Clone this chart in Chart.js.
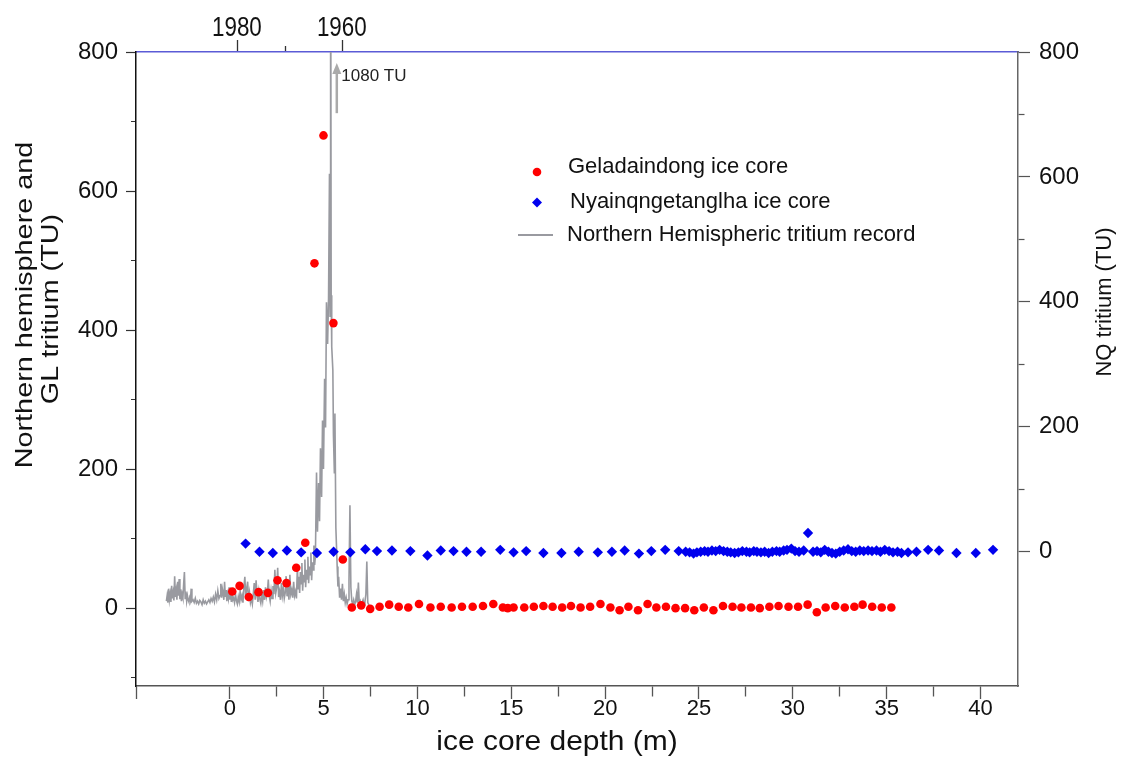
<!DOCTYPE html>
<html lang="en">
<head>
<meta charset="UTF-8">
<title>Tritium in ice cores</title>
<script src="https://cdn.jsdelivr.net/npm/chart.js"></script>
<style>
  body { margin: 0; background: #fff; }
  #wrap { width: 1124px; height: 770px; }
</style>
</head>
<body>
<div id="wrap"><canvas id="grafico"></canvas></div>
<script>
// Geladaindong ice core (left axis, TU)
const gdDepth = [0.13, 0.52, 1.01, 1.53, 2.03, 2.54, 3.02, 3.54, 4.02, 4.51, 4.99, 5.52, 6.02, 6.50, 7.00,
  7.48, 7.98, 8.49, 9.00, 9.51, 10.08, 10.69, 11.24, 11.82, 12.37, 12.94, 13.49, 14.04, 14.55, 14.81,
  15.12, 15.69, 16.20, 16.71, 17.20, 17.71, 18.18, 18.69, 19.20, 19.75, 20.28, 20.77, 21.24, 21.75, 22.26,
  22.73, 23.24, 23.75, 24.26, 24.75, 25.26, 25.77, 26.28, 26.79, 27.26, 27.77, 28.24, 28.75, 29.24, 29.77,
  30.28, 30.79, 31.28, 31.75, 32.26, 32.77, 33.28, 33.72, 34.23, 34.74, 35.25];
const gdTritium = [24, 32, 16, 23, 22, 40, 36, 58, 94, 496, 680, 410, 70, 1, 4,
  -1, 2, 5, 2, 1, 6, 1, 2, 1, 2, 2, 3, 6, 1, 0,
  1, 1, 2, 3, 2, 1, 3, 1, 2, 6, 1, -3, 2, -3, 6,
  1, 2, 0, 0, -3, 1, -3, 3, 2, 1, 1, 0, 2, 3, 2,
  2, 5, -6, 1, 3, 1, 2, 5, 2, 1, 1];

// Nyainqngetanglha ice core (right axis, TU)
const nqDepth = [0.84, 1.58, 2.29, 3.04, 3.80, 4.64, 5.53, 6.42, 7.22, 7.84, 8.64, 9.62, 10.53, 11.24, 11.92,
  12.61, 13.39, 14.41, 15.12, 15.79, 16.71, 17.67, 18.59, 19.61, 20.36, 21.04, 21.80, 22.46, 23.20, 23.92,
  24.29, 24.50, 24.71, 24.89, 25.09, 25.30, 25.48, 25.69, 25.89, 26.10, 26.31, 26.51, 26.69, 26.90, 27.10,
  27.31, 27.53, 27.70, 27.92, 28.09, 28.30, 28.50, 28.71, 28.91, 29.13, 29.30, 29.51, 29.69, 29.92, 30.12,
  30.33, 30.58, 30.81, 31.08, 31.29, 31.49, 31.70, 31.90, 32.09, 32.29, 32.50, 32.71, 32.94, 33.14, 33.35,
  33.57, 33.78, 34.01, 34.22, 34.46, 34.67, 34.90, 35.13, 35.34, 35.58, 35.79, 36.14, 36.59, 37.21, 37.79,
  38.72, 39.75, 40.67];
const nqTritium = [13, 0, -2, 2, -1, -2, 0, -1, 4, 1, 2, 1, -6, 2, 1,
  0, 0, 3, -1, 1, -2, -2, 0, -1, 0, 2, -3, 1, 3, 1,
  0, -1, -3, -1, 0, 1, 0, 2, 1, 3, 1, 0, -1, -2, -1,
  1, 0, -1, 1, 0, -1, 0, -2, 0, 1, 0, 2, 3, 5, 1,
  0, 2, 30, 0, 1, -1, 3, 0, -2, -3, 0, 2, 4, 1, 0,
  2, 1, 2, 1, 2, 0, 3, 1, -1, 0, -2, -1, 0, 3, 2,
  -2, -2, 3];

// Northern Hemispheric tritium record, placed on the depth scale (left axis, TU)
const nhDepth = [-3.38, -3.34, -3.30, -3.26, -3.22, -3.18, -3.14, -3.10, -3.06, -3.02, -2.98, -2.94, -2.90, -2.86, -2.82,
  -2.78, -2.74, -2.70, -2.66, -2.62, -2.58, -2.54, -2.50, -2.46, -2.42, -2.38, -2.34, -2.30, -2.26, -2.22,
  -2.18, -2.14, -2.10, -2.06, -2.02,
  -1.96, -1.90, -1.84, -1.78, -1.72, -1.66, -1.60, -1.54, -1.48, -1.42, -1.36, -1.30, -1.24, -1.18, -1.12,
  -1.06, -1.00, -0.94, -0.88, -0.82, -0.76, -0.70, -0.64, -0.58,
  -0.52, -0.48, -0.44, -0.40, -0.36, -0.32, -0.28, -0.24, -0.20, -0.16, -0.12, -0.08, -0.04, 0.00, 0.04,
  0.08, 0.12, 0.16,
  0.20, 0.25, 0.30, 0.35, 0.40, 0.45, 0.50, 0.55, 0.60, 0.65, 0.70, 0.75, 0.80, 0.85, 0.90,
  0.95, 1.00, 1.05, 1.10, 1.15, 1.20, 1.25, 1.30, 1.35, 1.40, 1.45, 1.50, 1.55, 1.60, 1.65,
  1.70, 1.75, 1.80, 1.85, 1.90, 1.95, 2.00, 2.05,
  2.10, 2.15, 2.20, 2.25, 2.30, 2.35, 2.40, 2.45, 2.50, 2.55, 2.60, 2.65, 2.70, 2.75, 2.80,
  2.85, 2.90, 2.95, 3.00, 3.05, 3.10, 3.15, 3.20, 3.25, 3.30, 3.35, 3.40, 3.45, 3.50, 3.55,
  3.60, 3.64, 3.68, 3.72, 3.76, 3.80, 3.84, 3.88, 3.92, 3.96, 4.00, 4.04, 4.08, 4.12, 4.16,
  4.20, 4.24, 4.28, 4.32, 4.36, 4.40, 4.44, 4.48, 4.52, 4.56,
  4.62, 4.67, 4.73, 4.78, 4.83, 4.89, 4.94, 4.99, 5.05, 5.10, 5.15, 5.21, 5.26, 5.31, 5.34,
  5.37, 5.40, 5.43, 5.49, 5.52, 5.57, 5.60, 5.65, 5.72, 5.76, 5.80, 5.85,
  5.90, 5.95, 6.00, 6.05, 6.10, 6.15, 6.20, 6.25, 6.30, 6.35, 6.40, 6.45, 6.50, 6.55, 6.60,
  6.65, 6.70, 6.75, 6.80, 6.85, 6.90, 6.95, 7.00, 7.05, 7.10, 7.15, 7.20, 7.25, 7.30, 7.35,
  7.40, 7.45];
const nhTritium = [10, 18, 8, 28, 12, 20, 9, 32, 14, 22, 11, 46, 16, 25, 12,
  38, 18, 42, 13, 27, 10, 20, 15, 35, 52, 14, 24, 10, 18, 12,
  9, 15, 11, 28, 10,
  12, 8, 14, 7, 10, 6, 11, 9, 5, 12, 7, 10, 6, 9, 12,
  8, 14, 10, 16, 9, 20, 12, 25, 14,
  18, 35, 15, 28, 22, 12, 38, 16, 26, 10, 20, 14, 30, 12, 24,
  9, 18, 12,
  14, 8, 20, 11, 6, 16, 9, 24, 12, 18, 8, 30, 45, 15, 28,
  38, 10, 22, 8, 14, 6, 20, 36, 12, 40, 18, 9, 24, 13, 7,
  19, 10, 26, 12, 30, 16, 22, 41,
  18, 10, 25, 14, 32, 20, 55, 22, 30, 58, 16, 24, 12, 36, 18,
  28, 14, 22, 46, 17, 32, 12, 48, 20, 26, 15, 38, 18, 24, 14,
  60, 28, 45, 22, 52, 35, 65, 25, 48, 38, 70, 30, 55, 42, 74,
  36, 60, 48, 80, 40, 66, 55, 90, 62, 75,
  195, 110, 180, 125, 230, 160, 270, 200, 330, 260, 440, 380, 445, 625, 420,
  1080, 450, 376, 342, 250, 195, 280, 116, 60, 31, 45, 15,
  28, 12, 35, 10, 20, 8, 15, 6, 12, 40, 148, 30, 10, 6, 12,
  5, 9, 20, 8, 37, 6, 10, 4, 8, 12, 5, 9, 20, 67, 8,
  5, 3];

// axis ticks
const depthTicks = [-5, 0, 2.5, 5, 7.5, 10, 12.5, 15, 17.5, 20, 22.5, 25, 27.5, 30, 32.5, 35, 37.5, 40];
const leftTicks = [-100, 0, 100, 200, 300, 400, 500, 600, 700, 800];
const rightTicks = [0, 100, 200, 300, 400, 500, 600, 700, 800];
const yearDepth = [0.43, 2.97, 6.02];
const yearLabels = ['1980', '', '1960'];

const FONT = "'Liberation Sans', Arial, sans-serif";

function pts(xs, ys) {
  return xs.map((v, i) => ({ x: v, y: ys[i] }));
}

function setTicks(values) {
  return axis => { axis.ticks = values.map(v => ({ value: v })); };
}

// minor ticks are drawn shorter with a dash pattern on the tick line
function minorDash(isMajor, tl, len, fromOuter) {
  return c => {
    if (!c.tick || isMajor(c.tick.value, c.index)) return [];
    return fromOuter ? [0, tl - len, len, 200] : [len, 200];
  };
}

// text drawn with a stretch along its own direction
function stretchedText(ctx, text, x, y, angle, sx) {
  ctx.save();
  ctx.translate(x, y);
  ctx.rotate(angle);
  ctx.scale(sx, 1);
  ctx.fillText(text, 0, 0);
  ctx.restore();
}

const extras = {
  id: 'extras',
  afterDraw(chart) {
    const ctx = chart.ctx;
    const xs = chart.scales.x, ys = chart.scales.y, xt = chart.scales.x2;
    ctx.save();

    // top year labels (narrow face)
    ctx.fillStyle = '#111';
    ctx.font = '28px ' + FONT;
    ctx.textAlign = 'center';
    ctx.textBaseline = 'alphabetic';
    yearDepth.forEach((d, i) => {
      if (yearLabels[i]) stretchedText(ctx, yearLabels[i], xt.getPixelForValue(d) - 1, 36, 0, 0.8);
    });

    // 1080 TU arrow
    const ax = xs.getPixelForValue(5.7);
    const yTop = ys.getPixelForValue(784), yBot = ys.getPixelForValue(712);
    ctx.strokeStyle = '#aaaaaa';
    ctx.fillStyle = '#aaaaaa';
    ctx.lineWidth = 2.5;
    ctx.beginPath();
    ctx.moveTo(ax, yBot);
    ctx.lineTo(ax, yTop + 8);
    ctx.stroke();
    ctx.beginPath();
    ctx.moveTo(ax, yTop);
    ctx.lineTo(ax - 4.5, yTop + 11);
    ctx.lineTo(ax + 4.5, yTop + 11);
    ctx.closePath();
    ctx.fill();
    ctx.fillStyle = '#222';
    ctx.font = '17px ' + FONT;
    ctx.textAlign = 'left';
    ctx.textBaseline = 'middle';
    ctx.fillText('1080 TU', xs.getPixelForValue(5.94), ys.getPixelForValue(765));

    // axis titles
    ctx.fillStyle = '#111';
    ctx.textAlign = 'center';
    ctx.font = '24px ' + FONT;
    stretchedText(ctx, 'Northern hemisphere and', 25, 305, -Math.PI / 2, 1.2);
    stretchedText(ctx, 'GL tritium (TU)', 51, 309, -Math.PI / 2, 1.2);
    ctx.font = '22px ' + FONT;
    stretchedText(ctx, 'NQ tritium (TU)', 1105, 302, -Math.PI / 2, 1);
    ctx.font = '28px ' + FONT;
    stretchedText(ctx, 'ice core depth (m)', 557, 742, 0, 1.07);

    // legend
    ctx.font = '22px ' + FONT;
    ctx.textAlign = 'left';
    ctx.fillStyle = '#ff0000';
    ctx.beginPath();
    ctx.arc(537, 172, 4.3, 0, Math.PI * 2);
    ctx.fill();
    ctx.fillStyle = '#0000ee';
    ctx.beginPath();
    ctx.moveTo(537, 197.5);
    ctx.lineTo(542, 202.5);
    ctx.lineTo(537, 207.5);
    ctx.lineTo(532, 202.5);
    ctx.closePath();
    ctx.fill();
    ctx.strokeStyle = '#999aa0';
    ctx.lineWidth = 1.8;
    ctx.beginPath();
    ctx.moveTo(518, 235);
    ctx.lineTo(553, 235);
    ctx.stroke();
    ctx.fillStyle = '#111';
    ctx.fillText('Geladaindong ice core', 568, 167);
    ctx.fillText('Nyainqngetanglha ice core', 570, 202);
    ctx.fillText('Northern Hemispheric tritium record', 567, 235);
    ctx.restore();
  }
};

const isFive = v => Math.abs(v / 5 - Math.round(v / 5)) < 1e-6;
const isTwoHundred = v => Math.abs(v / 200 - Math.round(v / 200)) < 1e-6;

new Chart(document.getElementById('grafico'), {
  type: 'scatter',
  data: {
    datasets: [
      {
        label: 'Geladaindong ice core',
        data: pts(gdDepth, gdTritium),
        yAxisID: 'y',
        pointStyle: 'circle',
        pointRadius: 4.3,
        backgroundColor: '#ff0000',
        borderWidth: 0
      },
      {
        label: 'Nyainqngetanglha ice core',
        data: pts(nqDepth, nqTritium),
        yAxisID: 'y2',
        pointStyle: 'rectRot',
        pointRadius: 5.2,
        backgroundColor: '#0000ee',
        borderWidth: 0
      },
      {
        label: 'Northern Hemispheric tritium record',
        data: pts(nhDepth, nhTritium),
        yAxisID: 'y',
        showLine: true,
        pointRadius: 0,
        borderColor: '#999aa0',
        borderWidth: 1.6,
        tension: 0
      }
    ]
  },
  options: {
    responsive: true,
    maintainAspectRatio: false,
    animation: false,
    layout: { padding: 0 },
    plugins: { legend: { display: false }, tooltip: { enabled: false } },
    scales: {
      x: {
        type: 'linear', position: 'bottom', min: -5, max: 42,
        afterBuildTicks: setTicks(depthTicks),
        afterFit: s => { s.height = 84; },
        border: { color: '#555', width: 1.5 },
        grid: {
          drawOnChartArea: false, tickLength: 13, tickColor: '#555', tickWidth: 1.3,
          tickBorderDash: minorDash(v => isFive(v), 13, 10, false)
        },
        ticks: {
          padding: -3, color: '#111', font: { family: FONT, size: 22 },
          callback: v => (isFive(v) && v >= 0 ? String(v) : '')
        }
      },
      x2: {
        type: 'linear', position: 'top', min: -5, max: 42,
        afterBuildTicks: setTicks(yearDepth),
        afterFit: s => { s.height = 52; },
        border: { color: '#5b5bd6', width: 1.5 },
        grid: {
          drawOnChartArea: false, tickLength: 12, tickColor: '#333', tickWidth: 1.3,
          tickBorderDash: minorDash((v, i) => yearLabels[i] !== '', 12, 6, true)
        },
        ticks: { display: true, color: 'rgba(0,0,0,0)', callback: () => '' }
      },
      y: {
        type: 'linear', position: 'left', min: -112, max: 800,
        afterBuildTicks: setTicks(leftTicks),
        afterFit: s => { s.width = 136; },
        border: { color: '#111', width: 1.5 },
        grid: {
          drawOnChartArea: false, tickLength: 10, tickColor: '#333', tickWidth: 1.2,
          tickBorderDash: minorDash(v => isTwoHundred(v), 10, 5, true)
        },
        ticks: {
          padding: 8, color: '#111', font: { family: FONT, size: 24 },
          callback: v => (isTwoHundred(v) ? String(v) : '')
        }
      },
      y2: {
        type: 'linear', position: 'right', min: -215, max: 800,
        afterBuildTicks: setTicks(rightTicks),
        afterFit: s => { s.width = 106; },
        border: { color: '#666', width: 1.5 },
        grid: {
          drawOnChartArea: false, tickLength: 12, tickColor: '#555', tickWidth: 1.2,
          tickBorderDash: minorDash(v => isTwoHundred(v), 12, 6, false)
        },
        ticks: {
          padding: 9, color: '#111', font: { family: FONT, size: 24 },
          callback: v => (isTwoHundred(v) ? String(v) : '')
        }
      }
    }
  },
  plugins: [extras]
});
</script>
</body>
</html>
